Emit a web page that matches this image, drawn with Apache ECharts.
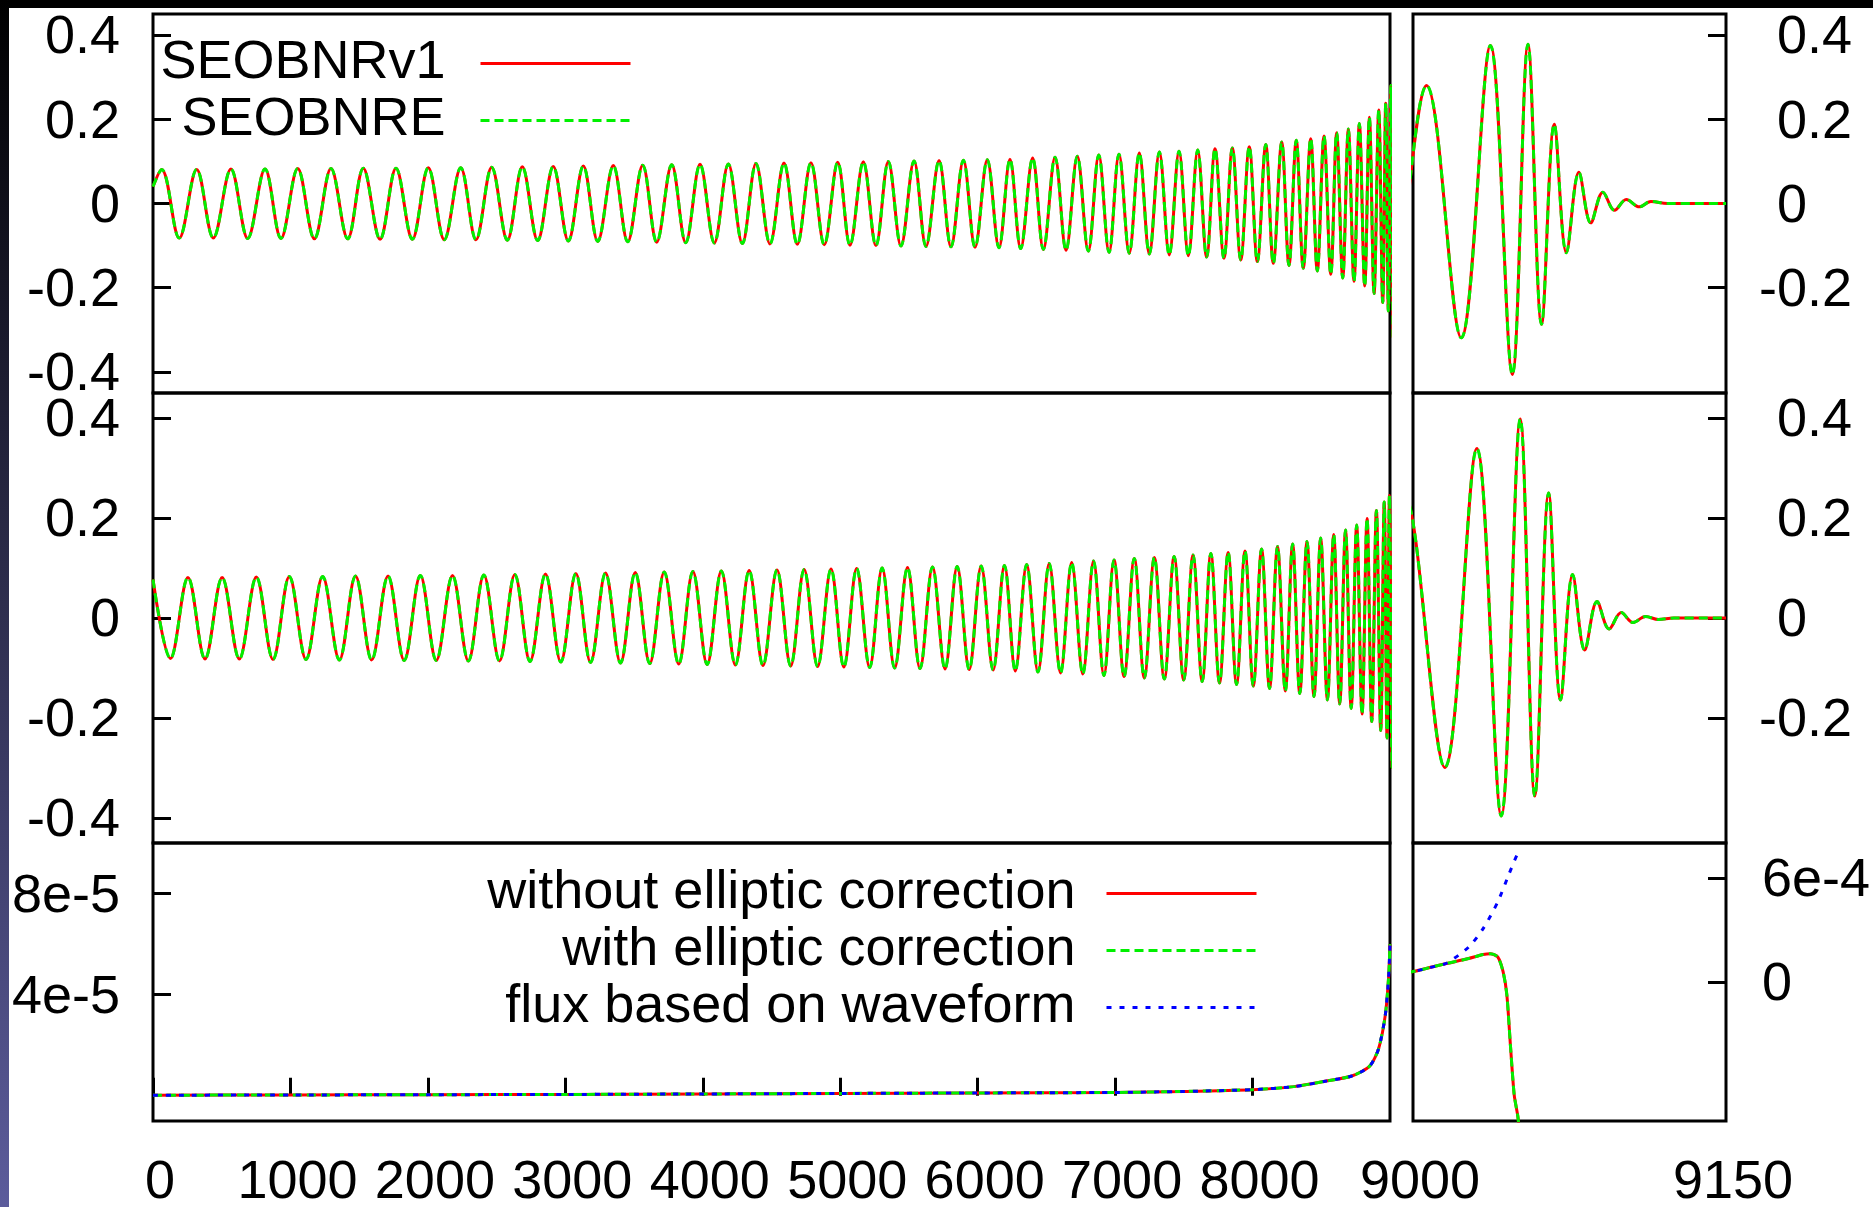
<!DOCTYPE html>
<html>
<head>
<meta charset="utf-8">
<script src="https://cdn.jsdelivr.net/npm/echarts@6/dist/echarts.min.js"></script>
<style>
html,body{margin:0;padding:0;background:#fff;}
#chart{width:1873px;height:1207px;}
</style>
</head>
<body>
<div id="chart"></div>
<script>
// ---------- DATA ----------
// Upper waveform panel: [time, h] at extrema (0..9150)
const waveTop = [
[0,0.04],[63,0.081],[191,-0.082],[318,0.081],[439,-0.082],[567,0.082],[689,-0.083],[815,0.082],[931,-0.083],
[1053,0.083],[1174,-0.084],[1295,0.083],[1417,-0.084],[1530,0.084],[1652,-0.085],[1768,0.084],[1887,-0.085],
[2003,0.085],[2119,-0.086],[2239,0.085],[2350,-0.086],[2464,0.086],[2578,-0.087],[2687,0.087],[2799,-0.088],
[2912,0.088],[3022,-0.089],[3131,0.089],[3236,-0.090],[3349,0.090],[3454,-0.091],[3563,0.091],[3665,-0.092],
[3774,0.092],[3876,-0.093],[3980,0.093],[4084,-0.094],[4186,0.094],[4288,-0.095],[4387,0.095],[4489,-0.096],
[4591,0.096],[4688,-0.097],[4787,0.097],[4884,-0.098],[4982,0.098],[5071,-0.099],[5168,0.099],[5260,-0.100],
[5350,0.100],[5442,-0.101],[5537,0.101],[5624,-0.102],[5719,0.102],[5806,-0.103],[5896,0.103],[5981,-0.104],
[6070,0.104],[6155,-0.105],[6235,0.105],[6313,-0.107],[6400,0.108],[6478,-0.109],[6563,0.110],[6643,-0.111],
[6725,0.112],[6805,-0.113],[6881,0.115],[6956,-0.116],[7028,0.117],[7103,-0.118],[7176,0.120],[7249,-0.120],
[7322,0.122],[7394,-0.122],[7465,0.124],[7533,-0.124],[7601,0.127],[7666,-0.127],[7727,0.130],[7792,-0.130],
[7853,0.132],[7914,-0.134],[7976,0.135],[8035,-0.138],[8096,0.140],[8151,-0.142],[8212,0.146],[8265,-0.147],
[8318,0.150],[8369,-0.154],[8423,0.154],[8471,-0.160],[8520,0.160],[8569,-0.168],[8612,0.168],[8656,-0.177],
[8697,0.177],[8738,-0.185],[8777,0.190],[8816,-0.196],[8850,0.205],[8884,-0.214],[8918,0.222],[8947,-0.235],
[8969,0.238],[8988,-0.255],[9006.5,0.280],[9023.1,-0.319],[9037.1,0.375],[9047.6,-0.406],[9055.1,0.378],
[9061.6,-0.287],[9067.7,0.188],[9073.5,-0.117],[9079.5,0.074],[9085.2,-0.046],[9091,0.027],[9096.6,-0.016],
[9102.2,0.0095],[9108.5,-0.008],[9114,0.005],[9122,0],[9150,0]
];
// Middle waveform panel
const waveMid = [
[0,0.077],[127,-0.081],[254.5,0.081],[378.5,-0.082],[503,0.081],[628,-0.082],[752,0.082],[873,-0.083],
[992,0.083],[1113.5,-0.083],[1234.5,0.083],[1356,-0.084],[1473.5,0.084],[1591,-0.084],[1710,0.084],[1827.5,-0.085],
[1945,0.085],[2061,-0.085],[2179,0.085],[2294.5,-0.086],[2407,0.086],[2521,-0.086],[2632.5,0.087],[2743,-0.087],
[2855.5,0.088],[2967,-0.088],[3076.5,0.089],[3183.5,-0.089],[3292.5,0.090],[3401.5,-0.090],[3508.5,0.091],[3614,-0.091],
[3719.5,0.092],[3825,-0.092],[3928,0.093],[4032,-0.093],[4135,0.094],[4237,-0.094],[4337.5,0.095],[4438,-0.095],
[4540,0.096],[4639.5,-0.096],[4737.5,0.097],[4835.5,-0.097],[4933,0.098],[5026.5,-0.098],[5119.5,0.099],[5214,-0.099],
[5305,0.100],[5396,-0.100],[5489.5,0.101],[5580.5,-0.101],[5671.5,0.102],[5762.5,-0.102],[5851,0.103],[5938.5,-0.103],
[6025.5,0.104],[6112.5,-0.104],[6195,0.105],[6274,-0.106],[6356.5,0.107],[6439,-0.108],[6520.5,0.109],[6603,-0.110],
[6684,0.111],[6765,-0.112],[6843,0.114],[6918.5,-0.115],[6992,0.116],[7065.5,-0.117],[7139.5,0.119],[7212.5,-0.120],
[7285.5,0.121],[7358,-0.122],[7429.5,0.123],[7499,-0.124],[7567,0.126],[7633.5,-0.127],[7696.5,0.129],[7759.5,-0.130],
[7822.5,0.131],[7883.5,-0.133],[7945,0.134],[8005.5,-0.136],[8065.5,0.138],[8123.5,-0.141],[8181.5,0.143],[8238.5,-0.146],
[8291.5,0.148],[8343.5,-0.151],[8396,0.153],[8447,-0.157],[8495.5,0.160],[8544.5,-0.164],[8590.5,0.167],[8634,-0.172],
[8676.5,0.176],[8717.5,-0.181],[8757.5,0.186],[8796.5,-0.192],[8833,0.199],[8867,-0.207],[8901,0.215],[8932.5,-0.225],
[8958,0.232],[8978.5,-0.240],[8996,0.245],[9015.2,-0.299],[9030.6,0.339],[9042.3,-0.396],[9051.4,0.398],[9058.4,-0.356],
[9065,0.25],[9070.7,-0.164],[9076.5,0.087],[9082.3,-0.064],[9088.2,0.033],[9094,-0.022],[9099.8,0.011],[9105.4,-0.009],
[9111.5,0.003],[9117.6,-0.003],[9125,0],[9150,0]
];
// Flux panels
const fluxNoEcc = [
[0,2e-7],[1000,3e-7],[2000,4e-7],[3000,5e-7],[4000,7e-7],[5000,9e-7],[6000,1.1e-6],[7000,1.3e-6],[7500,1.7e-6],
[8000,2.4e-6],[8300,3.6e-6],[8527,5.7e-6],[8722,7.8e-6],[8852,1.17e-5],[8917,1.86e-5],[8966,3.2e-5],[8990,4.7e-5],
[9000,6.0e-5],[9008,8.3e-5],[9016,1.06e-4],[9026.6,1.35e-4],[9033.6,1.58e-4],[9037,1.63e-4],[9040.6,1.44e-4],
[9043.2,0.58e-4],[9045,-0.77e-4],[9046.7,-3.66e-4],[9048.5,-6.5e-4],[9050.2,-7.7e-4],[9051,-8.6e-4]
];
const fluxEcc = [
[0,2e-7],[1000,3e-7],[2000,4e-7],[3000,5e-7],[4000,7e-7],[5000,9e-7],[6000,1.1e-6],[7000,1.3e-6],[7500,1.7e-6],
[8000,2.4e-6],[8300,3.6e-6],[8527,5.7e-6],[8722,7.8e-6],[8852,1.17e-5],[8917,1.86e-5],[8966,3.2e-5],[8990,4.7e-5],
[9000,6.0e-5],[9008,8.3e-5],[9016,1.06e-4],[9026.6,1.35e-4],[9033.6,1.58e-4],[9037,1.63e-4],[9040.6,1.44e-4],
[9043.2,0.58e-4],[9045,-0.77e-4],[9046.7,-3.66e-4],[9048.5,-6.5e-4],[9050.2,-7.7e-4],[9051,-8.6e-4]
];
const fluxWave = [
[0,2e-7],[1000,3e-7],[2000,4e-7],[3000,5e-7],[4000,7e-7],[5000,9e-7],[6000,1.1e-6],[7000,1.3e-6],[7500,1.7e-6],
[8000,2.4e-6],[8300,3.6e-6],[8527,5.7e-6],[8722,7.8e-6],[8852,1.17e-5],[8917,1.86e-5],[8966,3.2e-5],[8990,4.7e-5],
[9000,6.0e-5],[9008,8.3e-5],[9016,1.08e-4],[9026.6,2.0e-4],[9033.6,3.07e-4],[9040.6,4.6e-4],[9045.8,6.15e-4],
[9050.2,7.4e-4],[9052,7.6e-4]
];
// Tick values / labels
const waveTicksLeft = [-0.4, -0.2, 0, 0.2, 0.4];
const waveTicksRight = [-0.2, 0, 0.2, 0.4];
const waveTickLabels = ['-0.4', '-0.2', '0', '0.2', '0.4'];
const waveTickValues = [-0.4, -0.2, 0, 0.2, 0.4];
const fluxLeftTicks = [4e-5, 8e-5];
const fluxLeftLabels = ['4e-5', '8e-5'];
const fluxRightTicks = [0, 6e-4];
const fluxRightLabels = ['0', '6e-4'];
const timeTicksLeft = [0, 1000, 2000, 3000, 4000, 5000, 6000, 7000, 8000];
const timeLabelsLeft = ['0', '1000', '2000', '3000', '4000', '5000', '6000', '7000', '8000'];
const timeTicksRight = [9000, 9150];
const timeLabelsRight = ['9000', '9150'];
const legendWave = ['SEOBNRv1', 'SEOBNRE'];
const legendFlux = ['without elliptic correction', 'with elliptic correction', 'flux based on waveform'];

// ---------- CHART ----------
const FONT = "'Liberation Sans', Arial, Helvetica, sans-serif";
const FS = 54;
function lookup(vals, labels) {
  return function (v) {
    for (let i = 0; i < vals.length; i++) if (Math.abs(vals[i] - v) < 1e-12) return labels[i];
    return '';
  };
}
// y labels as rich text; optionally the minus sign hangs left of the digits
function richLookup(vals, labels, hang) {
  const f = lookup(vals, labels);
  return function (v) {
    const s = f(v);
    if (hang && s.charAt(0) !== '-') return '{h|-}{v|' + s + '}';
    return '{v|' + s + '}';
  };
}
const L = 153, LW = 1237, R = 1413, RW = 313;
const rows = [[14, 379], [393, 450], [843, 278]];
const grids = [];
rows.forEach(r => {
  grids.push({left: L, top: r[0], width: LW, height: r[1], show: true, borderColor: '#000', borderWidth: 3,
    backgroundColor: 'transparent', containLabel: false, outerBoundsMode: 'none'});
  grids.push({left: R, top: r[0], width: RW, height: r[1], show: true, borderColor: '#000', borderWidth: 3,
    backgroundColor: 'transparent', containLabel: false, outerBoundsMode: 'none'});
});
const tickStyle = {color: '#000', width: 3};
const labelBase = {color: '#000', fontSize: FS, fontFamily: FONT};
function xAx(gi, left, showLabels) {
  const ax = {type: 'value', gridIndex: gi, min: left ? 0 : 9000, max: left ? 9000 : 9150,
    axisLine: {show: false}, splitLine: {show: false}};
  if (!showLabels) { ax.axisTick = {show: false}; ax.axisLabel = {show: false}; return ax; }
  if (left) {
    ax.axisTick = {show: true, inside: true, length: 18, lineStyle: tickStyle, customValues: timeTicksLeft};
    ax.axisLabel = Object.assign({show: true, margin: 35, padding: [0, 0, 0, 14], customValues: timeTicksLeft, formatter: lookup(timeTicksLeft, timeLabelsLeft)}, labelBase);
  } else {
    ax.axisTick = {show: false};
    ax.axisLabel = Object.assign({show: true, margin: 35, padding: [0, 0, 0, 14], customValues: timeTicksRight, formatter: lookup(timeTicksRight, timeLabelsRight)}, labelBase);
  }
  return ax;
}
function yAx(gi, left, min, max, ticks, vals, labels, margin, hang) {
  const lab = Object.assign({show: true, margin: margin, padding: [7, 0, 0, 0], customValues: ticks,
    formatter: richLookup(vals, labels, hang),
    rich: {
      h: {color: 'rgba(0,0,0,0)', fontSize: FS, fontFamily: FONT},
      v: {color: '#000', fontSize: FS, fontFamily: FONT}
    }}, labelBase);
  return {type: 'value', gridIndex: gi, position: left ? 'left' : 'right', min: min, max: max,
    axisLine: {show: false}, splitLine: {show: false},
    axisTick: {show: true, inside: true, length: 18, lineStyle: tickStyle, customValues: ticks},
    axisLabel: lab};
}
const xAxes = [xAx(0, true, false), xAx(1, false, false), xAx(2, true, false), xAx(3, false, false), xAx(4, true, true), xAx(5, false, true)];
const yAxes = [
  yAx(0, true, -0.45, 0.45, waveTicksLeft, waveTickValues, waveTickLabels, 33, false),
  yAx(1, false, -0.45, 0.45, waveTicksRight, waveTickValues, waveTickLabels, 33, true),
  yAx(2, true, -0.45, 0.45, waveTicksLeft, waveTickValues, waveTickLabels, 33, false),
  yAx(3, false, -0.45, 0.45, waveTicksRight, waveTickValues, waveTickLabels, 33, true),
  yAx(4, true, -1e-5, 1e-4, fluxLeftTicks, fluxLeftTicks, fluxLeftLabels, 33, false),
  yAx(5, false, -8e-4, 8e-4, fluxRightTicks, fluxRightTicks, fluxRightLabels, 36, false)
];
const RED = '#ff0000', GREEN = '#00f000', BLUE = '#0000ff';
function line(name, gi, data, color, type, smooth) {
  return {type: 'line', name: name, xAxisIndex: gi, yAxisIndex: gi, data: data, symbol: 'none', showSymbol: false,
    smooth: smooth, clip: true, animation: false, silent: true,
    lineStyle: {color: color, width: 3, type: type}, itemStyle: {color: color}};
}
const upTo9000 = p => p[0] <= 9000;
const series = [];
for (const gi of [0, 1]) {
  series.push(line(legendWave[0], gi, waveTop, RED, 'solid', 0.36));
  series.push(line(legendWave[1], gi, waveTop, GREEN, [9, 5], 0.36));
}
for (const gi of [2, 3]) {
  series.push(line(legendWave[0], gi, waveMid, RED, 'solid', 0.36));
  series.push(line(legendWave[1], gi, waveMid, GREEN, [9, 5], 0.36));
}
series.push(line(legendFlux[0], 4, fluxNoEcc.filter(upTo9000), RED, 'solid', 0.25));
series.push(line(legendFlux[1], 4, fluxEcc.filter(upTo9000), GREEN, [9, 5], 0.25));
series.push(line(legendFlux[2], 4, fluxWave.filter(upTo9000), BLUE, [5, 8], 0.25));
series.push(line(legendFlux[0], 5, fluxNoEcc, RED, 'solid', 0.25));
series.push(line(legendFlux[1], 5, fluxEcc, GREEN, [9, 5], 0.25));
series.push(line(legendFlux[2], 5, fluxWave, BLUE, [5, 8], 0.25));

const legendTextTop = {color: '#000', fontSize: FS, fontFamily: FONT, lineHeight: 57, padding: [0, 30, 0, 0]};
const legendTextBot = {color: '#000', fontSize: FS, fontFamily: FONT, lineHeight: 57, padding: [0, 26, 0, 0]};
const option = {
  animation: false,
  backgroundColor: '#ffffff',
  grid: grids,
  xAxis: xAxes,
  yAxis: yAxes,
  legend: [
    {data: legendWave, orient: 'vertical', align: 'right', right: 1873 - 632, top: 35, padding: 0, itemGap: 0,
     itemWidth: 150, itemHeight: 20, selectedMode: false, textStyle: legendTextTop,
     lineStyle: {width: 3}, itemStyle: {opacity: 0, borderWidth: 0}},
    {data: legendFlux, orient: 'vertical', align: 'right', right: 1873 - 1258, top: 865, padding: 0, itemGap: 0,
     itemWidth: 150, itemHeight: 20, selectedMode: false, textStyle: legendTextBot,
     lineStyle: {width: 3}, itemStyle: {opacity: 0, borderWidth: 0}}
  ],
  graphic: [
    {type: 'rect', shape: {x: 0, y: 0, width: 1873, height: 8}, style: {fill: '#000'}, z: 100},
    {type: 'rect', shape: {x: 0, y: 0, width: 9, height: 1207},
     style: {fill: {type: 'linear', x: 0, y: 0, x2: 0, y2: 1, colorStops: [{offset: 0, color: '#000000'}, {offset: 1, color: '#5c5c9c'}]}}, z: 100}
  ],
  series: series
};
const chart = echarts.init(document.getElementById('chart'), null, {renderer: 'canvas'});
chart.setOption(option);
</script>
</body>
</html>
